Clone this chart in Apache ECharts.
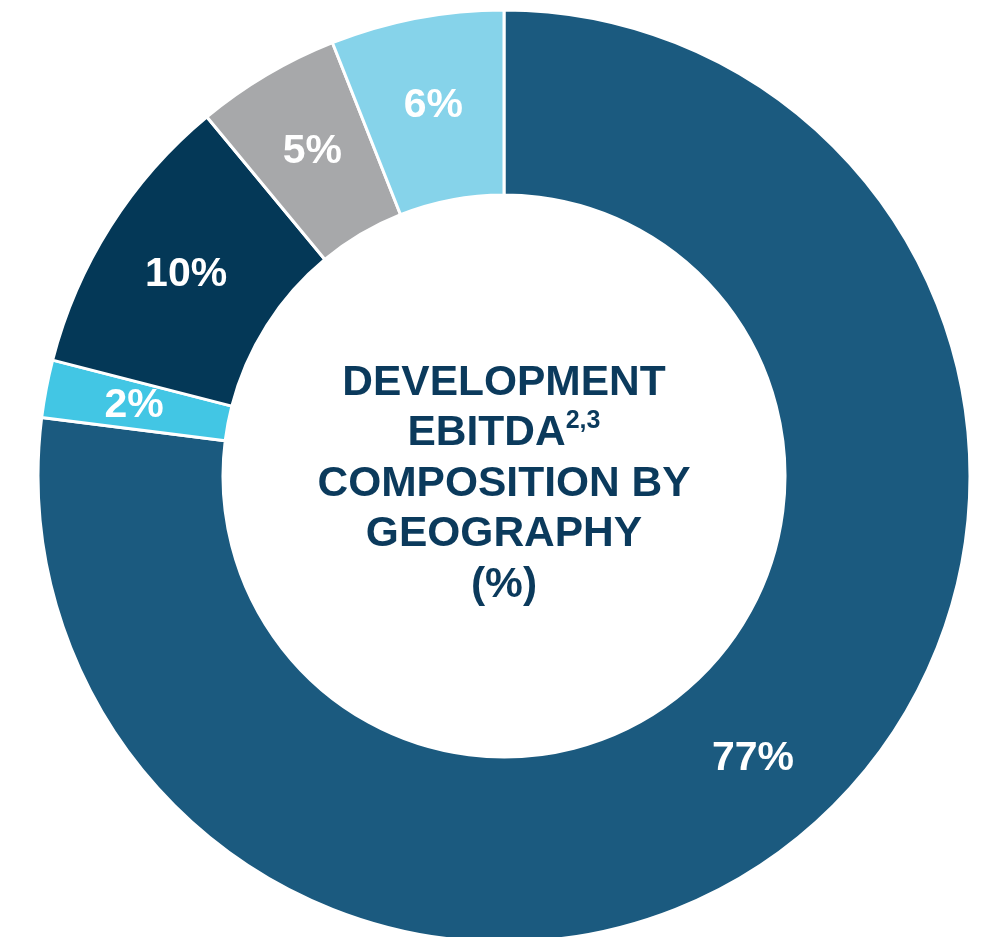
<!DOCTYPE html>
<html>
<head>
<meta charset="utf-8">
<script src="https://cdn.jsdelivr.net/npm/echarts@6/dist/echarts.min.js"></script>
<style>
  html, body { margin: 0; padding: 0; background: #ffffff; }
  #chart { width: 993px; height: 937px; }
</style>
</head>
<body>
<div id="chart"></div>
<script>
// Regions, clockwise from 12 o'clock
const regions = ['Region A', 'Region B', 'Region C', 'Region D', 'Region E'];
const shares = [77, 2, 10, 5, 6];
const sliceColors = ['#1b5a7f', '#42c6e4', '#043857', '#a7a8aa', '#86d3ea'];

const chart = echarts.init(document.getElementById('chart'));
const font = '"Liberation Sans", Arial, Helvetica, sans-serif';

chart.setOption({
  animation: false,
  backgroundColor: '#ffffff',
  graphic: [{
    type: 'text',
    x: 504,
    y: 484,
    style: {
      text: '{t|DEVELOPMENT}\n{t|EBITDA}{s|2,3}\n{t|COMPOSITION BY}\n{t|GEOGRAPHY}\n{t|(%)}',
      align: 'center',
      verticalAlign: 'middle',
      x: 0, y: 0,
      rich: {
        t: { fontFamily: font, fontWeight: 'bold', fontSize: 42.5, lineHeight: 50.5, fill: '#0b3a5c', align: 'center' },
        s: { fontFamily: font, fontWeight: 'bold', fontSize: 25, lineHeight: 50, fill: '#0b3a5c', verticalAlign: 'top', padding: [0, 0, 14, 0] }
      }
    }
  }],
  series: [{
    type: 'pie',
    center: [504, 476],
    radius: [281, 466],
    startAngle: 90,
    clockwise: true,
    silent: true,
    itemStyle: { borderColor: '#ffffff', borderWidth: 3 },
    label: {
      show: true,
      position: 'inside',
      formatter: '{c}%',
      color: '#ffffff',
      fontFamily: font,
      fontWeight: 'bold',
      fontSize: 41
    },
    labelLine: { show: false },
    data: regions.map((name, i) => ({
      name: name,
      value: shares[i],
      itemStyle: { color: sliceColors[i] }
    }))
  }]
});
</script>
</body>
</html>
